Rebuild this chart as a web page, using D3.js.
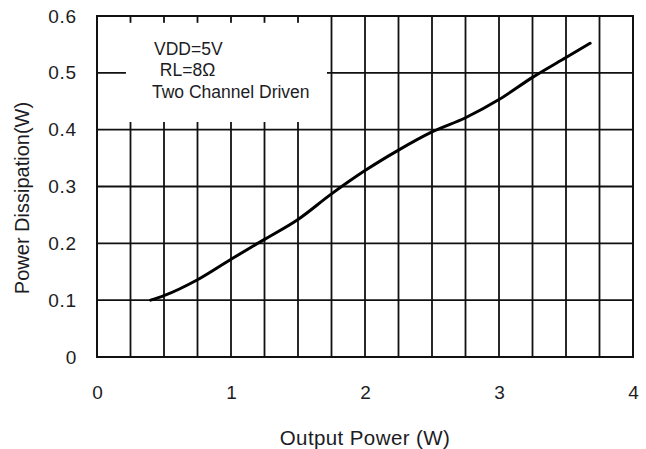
<!DOCTYPE html>
<html>
<head>
<meta charset="utf-8">
<script src="https://cdn.jsdelivr.net/npm/d3@7"></script>
<style>
  body { margin: 0; background: #fff; }
  text { font-family: "Liberation Sans", Arial, sans-serif; fill: #1c1c24; }
</style>
</head>
<body>
<svg class="chart" width="646" height="449"></svg>
<script>
// curve
const outputPower = [0.4, 0.5, 0.75, 1.0, 1.25, 1.5, 1.75, 2.0, 2.25, 2.5, 2.75, 3.0, 3.25, 3.5, 3.68];
const dissipation = [0.100, 0.108, 0.136, 0.172, 0.207, 0.242, 0.287, 0.328, 0.364, 0.396, 0.421, 0.453, 0.492, 0.527, 0.552];

const xTicks = [0, 1, 2, 3, 4];
const yTicks = [0, 0.1, 0.2, 0.3, 0.4, 0.5, 0.6];
const xGrid = [0.25, 0.5, 0.75, 1, 1.25, 1.5, 1.75, 2, 2.25, 2.5, 2.75, 3, 3.25, 3.5, 3.75];
const yGrid = [0.1, 0.2, 0.3, 0.4, 0.5];
const legendLines = ["VDD=5V", " RL=8\u03A9", "Two Channel Driven"];

const svg = d3.select(".chart");
const margin = { top: 16, left: 97 };
const width = 536;
const height = 341;

const x = d3.scaleLinear().domain([0, 4]).range([0, width]);
const y = d3.scaleLinear().domain([0, 0.6]).range([height, 0]);

const g = svg.append("g")
  .attr("transform", "translate(" + margin.left + "," + margin.top + ")");

// grid
g.append("g")
  .selectAll("line.vg")
  .data(xGrid)
  .enter()
  .append("line")
  .attr("x1", d => x(d)).attr("x2", d => x(d))
  .attr("y1", 0).attr("y2", height)
  .style("stroke", "#111").style("stroke-width", 1.8);

g.append("g")
  .selectAll("line.hg")
  .data(yGrid)
  .enter()
  .append("line")
  .attr("x1", 0).attr("x2", width)
  .attr("y1", d => y(d)).attr("y2", d => y(d))
  .style("stroke", "#111").style("stroke-width", 1.8);

// legend box sits over the grid
g.append("rect")
  .attr("x", x(0.216))
  .attr("y", y(0.588))
  .attr("width", x(1.716) - x(0.216))
  .attr("height", y(0.4135) - y(0.588))
  .style("fill", "#fff");

const legendX = [57, 58, 55];
const legendY = [39, 60, 82];
g.selectAll(".legend-text")
  .data(legendLines)
  .enter()
  .append("text")
  .attr("class", "legend-text")
  .attr("x", (d, i) => legendX[i])
  .attr("y", (d, i) => legendY[i])
  .style("font-size", "17.5px")
  .style("white-space", "pre")
  .text(d => d);

// frame
g.append("rect")
  .attr("width", width)
  .attr("height", height)
  .style("fill", "none")
  .style("stroke", "#111")
  .style("stroke-width", 2);

// curve
const line = d3.line()
  .x(d => x(d[0]))
  .y(d => y(d[1]))
  .curve(d3.curveMonotoneX);

g.append("path")
  .datum(outputPower.map((p, i) => [p, dissipation[i]]))
  .attr("d", line)
  .style("fill", "none")
  .style("stroke", "#000")
  .style("stroke-width", 3)
  .style("stroke-linecap", "round");

// tick labels
const xAxis = g.append("g")
  .attr("transform", "translate(0," + height + ")")
  .call(d3.axisBottom(x).tickValues(xTicks).tickSize(0).tickPadding(29).tickFormat(d3.format("d")));
xAxis.select(".domain").remove();
xAxis.selectAll("text").style("font-size", "19px").style("fill", "#1c1c24");

const yAxis = g.append("g")
  .call(d3.axisLeft(y).tickValues(yTicks).tickSize(0).tickPadding(20).tickFormat(d => d === 0 ? "0" : d3.format(".1f")(d)));
yAxis.select(".domain").remove();
yAxis.selectAll("text").style("font-size", "19px").style("letter-spacing", "0.8px").style("fill", "#1c1c24");

// axis titles
svg.append("text")
  .attr("x", margin.left + width / 2)
  .attr("y", 445)
  .style("text-anchor", "middle")
  .style("font-size", "20.5px")
  .style("letter-spacing", "0.4px")
  .text("Output Power (W)");

svg.append("text")
  .attr("transform", "translate(29,198) rotate(-90)")
  .style("text-anchor", "middle")
  .style("font-size", "20px")
  .text("Power Dissipation(W)");
</script>
</body>
</html>
